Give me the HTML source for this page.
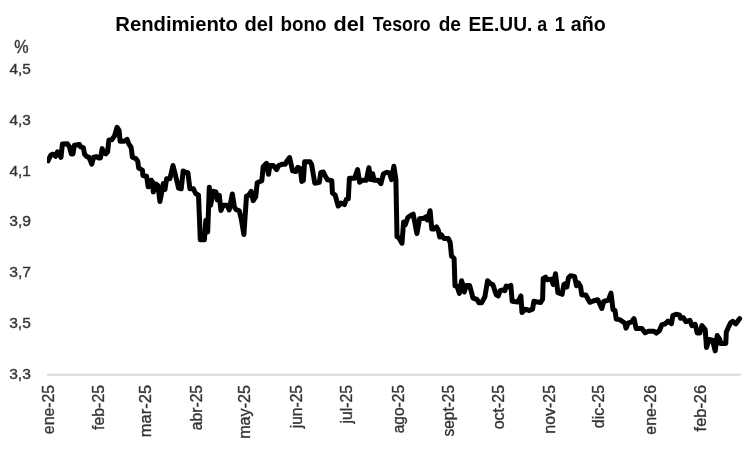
<!DOCTYPE html>
<html><head><meta charset="utf-8"><style>
html,body{margin:0;padding:0;background:#fff;width:752px;height:453px;overflow:hidden}
svg{display:block;will-change:transform}
text{font-family:"Liberation Sans",sans-serif;fill:#333;stroke:#333;stroke-width:0.35px}
</style></head><body>
<svg width="752" height="453" viewBox="0 0 752 453">

<g font-size="21" font-weight="bold" style="fill:#000"><text x="115.25" y="31.2" textLength="122.65" lengthAdjust="spacingAndGlyphs" style="fill:#000;stroke:none">Rendimiento</text><text x="244.58" y="31.2" textLength="29.05" lengthAdjust="spacingAndGlyphs" style="fill:#000;stroke:none">del</text><text x="280.46" y="31.2" textLength="46.08" lengthAdjust="spacingAndGlyphs" style="fill:#000;stroke:none">bono</text><text x="333.51" y="31.2" textLength="31.32" lengthAdjust="spacingAndGlyphs" style="fill:#000;stroke:none">del</text><text x="372.81" y="31.2" textLength="57.87" lengthAdjust="spacingAndGlyphs" style="fill:#000;stroke:none">Tesoro</text><text x="438.72" y="31.2" textLength="22.23" lengthAdjust="spacingAndGlyphs" style="fill:#000;stroke:none">de</text><text x="468.52" y="31.2" textLength="63.80" lengthAdjust="spacingAndGlyphs" style="fill:#000;stroke:none">EE.UU.</text><text x="537.18" y="31.2" textLength="9.91" lengthAdjust="spacingAndGlyphs" style="fill:#000;stroke:none">a</text><text x="554.74" y="31.2" textLength="10.28" lengthAdjust="spacingAndGlyphs" style="fill:#000;stroke:none">1</text><text x="570.82" y="31.2" textLength="35.05" lengthAdjust="spacingAndGlyphs" style="fill:#000;stroke:none">año</text></g>
<text x="14.32" y="52.8" font-size="17.5" textLength="14.35" lengthAdjust="spacingAndGlyphs">%</text>
<g font-size="15.4">
<text x="9.45" y="74.20" textLength="21.40" lengthAdjust="spacingAndGlyphs">4,5</text>
<text x="9.45" y="124.95" textLength="21.43" lengthAdjust="spacingAndGlyphs">4,3</text>
<text x="9.44" y="175.70" textLength="21.51" lengthAdjust="spacingAndGlyphs">4,1</text>
<text x="9.20" y="226.45" textLength="21.74" lengthAdjust="spacingAndGlyphs">3,9</text>
<text x="9.20" y="277.20" textLength="21.78" lengthAdjust="spacingAndGlyphs">3,7</text>
<text x="9.21" y="327.95" textLength="21.65" lengthAdjust="spacingAndGlyphs">3,5</text>
<text x="9.21" y="378.70" textLength="21.68" lengthAdjust="spacingAndGlyphs">3,3</text>
</g>
<line x1="47" y1="374.7" x2="740.7" y2="374.7" stroke="#d9d9d9" stroke-width="2"/>
<g font-size="16.8">
<text transform="translate(53.85,433.50) rotate(-90)" x="-0.67" y="0" textLength="49.24" lengthAdjust="spacingAndGlyphs">ene-25</text>
<text transform="translate(104.45,429.80) rotate(-90)" x="-0.23" y="0" textLength="45.09" lengthAdjust="spacingAndGlyphs">feb-25</text>
<text transform="translate(150.75,436.20) rotate(-90)" x="-1.10" y="0" textLength="52.39" lengthAdjust="spacingAndGlyphs">mar-25</text>
<text transform="translate(201.65,429.50) rotate(-90)" x="-0.66" y="0" textLength="45.22" lengthAdjust="spacingAndGlyphs">abr-25</text>
<text transform="translate(250.25,437.80) rotate(-90)" x="-1.07" y="0" textLength="53.95" lengthAdjust="spacingAndGlyphs">may-25</text>
<text transform="translate(302.25,428.70) rotate(-90)" x="0.38" y="0" textLength="43.37" lengthAdjust="spacingAndGlyphs">jun-25</text>
<text transform="translate(351.85,423.90) rotate(-90)" x="0.39" y="0" textLength="38.58" lengthAdjust="spacingAndGlyphs">jul-25</text>
<text transform="translate(404.25,432.70) rotate(-90)" x="-0.66" y="0" textLength="48.41" lengthAdjust="spacingAndGlyphs">ago-25</text>
<text transform="translate(454.45,436.10) rotate(-90)" x="-0.43" y="0" textLength="51.58" lengthAdjust="spacingAndGlyphs">sept-25</text>
<text transform="translate(503.95,428.70) rotate(-90)" x="-0.67" y="0" textLength="44.44" lengthAdjust="spacingAndGlyphs">oct-25</text>
<text transform="translate(555.05,432.70) rotate(-90)" x="-1.06" y="0" textLength="48.83" lengthAdjust="spacingAndGlyphs">nov-25</text>
<text transform="translate(604.05,427.50) rotate(-90)" x="-0.67" y="0" textLength="43.23" lengthAdjust="spacingAndGlyphs">dic-25</text>
<text transform="translate(656.15,434.00) rotate(-90)" x="-0.68" y="0" textLength="49.78" lengthAdjust="spacingAndGlyphs">ene-26</text>
<text transform="translate(706.45,431.20) rotate(-90)" x="-0.23" y="0" textLength="46.55" lengthAdjust="spacingAndGlyphs">feb-26</text>
</g>
<clipPath id="pa"><rect x="47" y="0" width="705" height="453"/></clipPath>
<path clip-path="url(#pa)" d="M48.0,160.8 L50.6,155.5 L52.0,154.3 L53.4,154.3 L55.7,156.3 L57.4,151.9 L58.9,152.9 L61.0,157.3 L62.4,143.9 L67.3,143.7 L69.3,146.6 L71.3,153.9 L73.0,153.9 L74.3,145.3 L79.5,144.5 L80.6,146.9 L83.3,147.6 L84.6,154.3 L87.0,156.8 L89.0,157.2 L91.8,164.2 L93.7,157.2 L96.5,156.6 L98.5,157.9 L100.5,157.9 L102.2,148.6 L103.8,152.6 L105.8,153.9 L107.6,151.9 L108.9,139.9 L111.8,139.7 L114.5,136.0 L117.1,127.3 L119.1,130.6 L120.1,141.3 L123.8,141.3 L127.1,139.3 L129.1,144.6 L131.1,147.3 L132.4,157.2 L135.8,158.6 L137.7,161.2 L138.7,168.1 L142.4,170.1 L142.9,175.5 L146.6,176.2 L148.2,186.8 L150.0,186.1 L151.3,180.2 L152.6,182.1 L153.3,192.1 L154.9,186.1 L155.9,184.1 L157.9,185.5 L159.9,201.4 L161.9,191.5 L163.3,183.5 L165.0,189.5 L166.6,178.8 L169.9,178.8 L173.0,165.5 L175.2,174.2 L178.6,188.1 L181.2,188.8 L183.2,170.9 L185.2,172.2 L187.9,172.8 L189.9,188.8 L193.4,188.8 L195.6,193.5 L198.5,195.2 L200.3,239.8 L204.4,239.8 L205.8,220.5 L207.7,232.0 L209.3,187.3 L210.6,205.3 L213.3,191.3 L215.9,192.0 L217.3,200.0 L219.3,195.3 L220.9,210.6 L223.2,205.3 L227.2,205.3 L229.2,209.9 L232.3,194.0 L234.5,207.3 L236.5,209.9 L239.2,210.6 L241.2,218.6 L243.9,234.5 L246.5,196.0 L248.5,195.3 L251.2,191.3 L253.2,200.6 L255.8,196.6 L257.2,182.7 L261.8,180.7 L263.2,166.8 L266.5,163.3 L268.5,174.3 L269.9,165.6 L273.3,165.6 L276.6,169.6 L278.6,165.6 L281.9,164.3 L285.2,164.3 L286.6,161.6 L289.6,157.6 L292.6,170.9 L295.9,171.6 L297.8,167.3 L300.3,168.6 L301.8,181.4 L303.4,180.4 L304.6,161.8 L310.0,161.8 L311.6,164.5 L314.8,183.2 L319.3,182.4 L320.8,172.4 L323.3,172.0 L325.5,176.5 L327.6,179.8 L331.8,180.6 L332.4,192.9 L335.1,194.9 L338.2,206.0 L341.0,203.0 L344.4,204.6 L346.3,199.5 L348.3,198.9 L349.4,178.3 L354.5,178.3 L357.6,169.7 L359.6,182.3 L362.3,180.3 L366.3,180.3 L368.9,167.7 L370.6,179.6 L372.6,173.7 L374.2,180.3 L378.2,180.3 L380.9,183.6 L383.5,173.7 L386.9,172.3 L389.5,173.0 L391.5,179.6 L393.9,166.3 L395.9,179.6 L397.0,236.6 L399.0,237.9 L402.0,243.2 L403.6,221.9 L405.3,224.8 L407.8,217.5 L410.0,216.0 L413.2,214.1 L416.9,233.6 L419.6,218.8 L423.8,218.3 L425.6,217.0 L427.3,220.0 L430.1,210.7 L431.8,228.9 L434.4,228.9 L436.5,226.9 L438.4,230.5 L439.7,237.0 L441.6,235.0 L443.8,238.4 L448.2,238.4 L450.2,242.6 L451.5,255.9 L454.1,258.5 L455.0,286.0 L457.0,286.0 L459.4,293.4 L461.6,280.7 L463.0,285.4 L464.3,292.0 L466.3,285.4 L469.6,285.4 L471.6,292.7 L472.9,298.0 L476.9,299.3 L478.9,302.7 L481.6,302.7 L484.9,296.7 L487.6,280.7 L490.2,283.4 L492.9,284.7 L496.2,294.7 L498.2,296.0 L500.2,290.7 L502.8,290.0 L504.8,290.7 L506.2,286.0 L508.2,286.7 L510.8,285.4 L512.2,301.2 L518.0,301.9 L520.9,295.9 L522.0,312.5 L525.3,309.2 L529.3,310.5 L532.6,309.2 L533.9,301.2 L540.6,302.6 L542.6,299.2 L543.2,278.4 L545.6,277.1 L547.2,279.7 L551.2,279.1 L553.2,284.4 L555.5,273.7 L557.9,292.6 L562.1,294.3 L563.9,284.4 L565.2,283.7 L566.9,287.0 L568.5,277.7 L570.5,275.7 L574.5,276.4 L576.5,285.7 L578.5,283.0 L580.5,286.4 L581.8,295.0 L585.8,295.0 L589.8,302.3 L593.1,301.0 L597.8,299.7 L601.8,308.5 L603.7,301.5 L608.4,300.1 L611.0,293.2 L613.0,309.6 L615.0,310.3 L616.2,319.0 L619.6,319.6 L624.8,323.0 L626.0,328.1 L628.4,323.0 L631.2,322.2 L634.0,318.6 L636.1,328.6 L641.9,328.5 L645.1,332.9 L648.3,331.2 L653.9,331.2 L656.3,333.2 L659.5,330.5 L661.9,324.6 L665.0,324.0 L667.8,321.2 L671.5,323.6 L672.8,315.6 L676.1,314.3 L679.4,314.9 L680.6,318.3 L683.3,317.6 L685.9,321.6 L689.9,320.3 L691.9,325.6 L695.2,324.3 L697.2,332.9 L699.9,332.9 L701.9,325.6 L705.2,329.6 L706.5,347.5 L709.2,339.5 L712.5,340.2 L715.2,350.9 L717.2,335.6 L719.8,339.5 L720.5,343.5 L725.8,343.5 L726.3,332.0 L728.3,327.5 L730.6,322.8 L732.8,321.3 L735.8,323.8 L738.6,320.0 L739.6,318.6" fill="none" stroke="#000" stroke-width="5" stroke-linejoin="round" stroke-linecap="round"/>
</svg>
</body></html>
